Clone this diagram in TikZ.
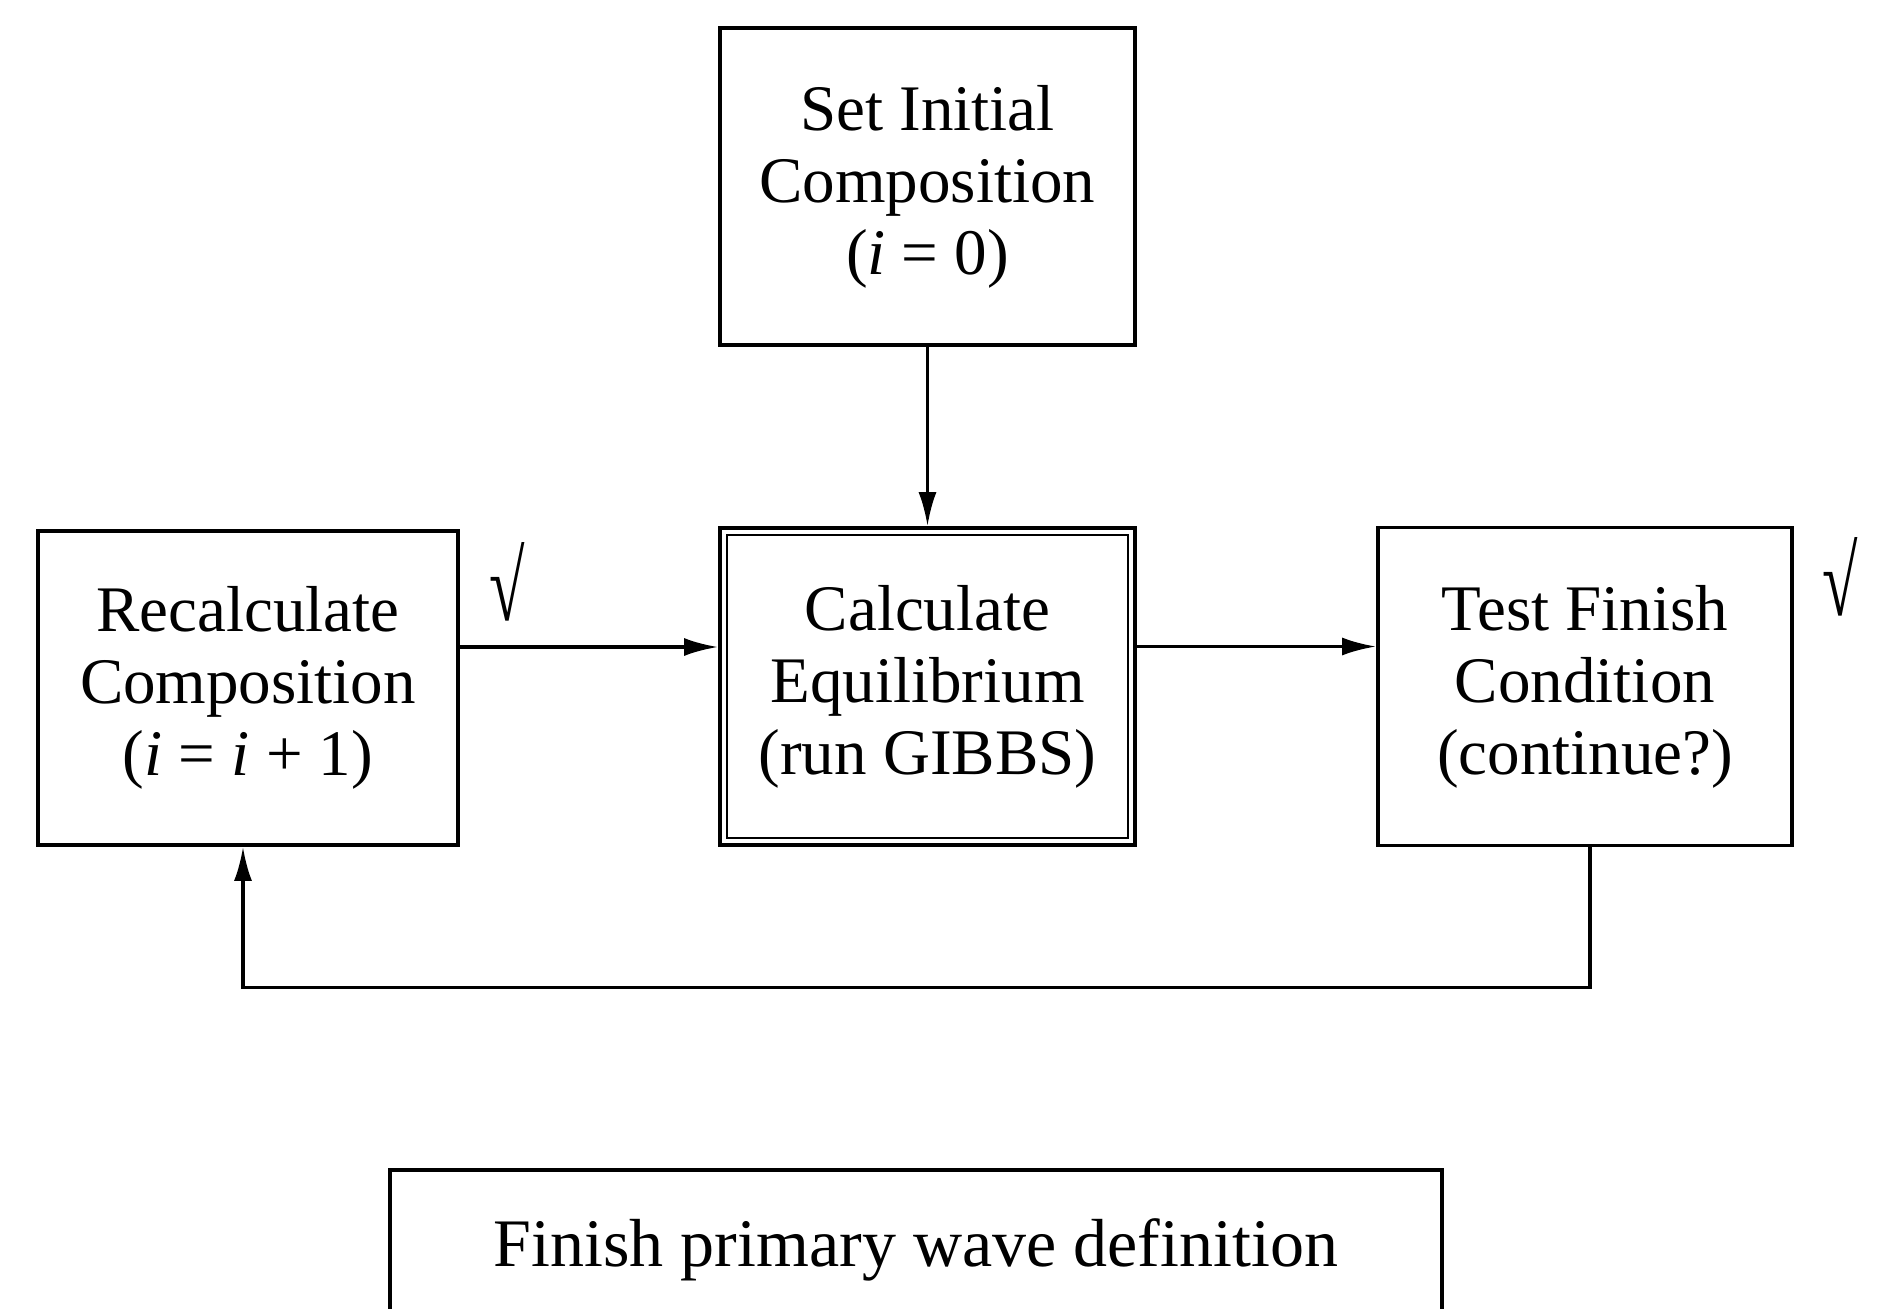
\documentclass[tikz,border=0pt]{standalone}
\usepackage{fontspec}
\setmainfont{Liberation Serif}
\usetikzlibrary{arrows.meta,calc}
\begin{document}
\begin{tikzpicture}[x=0.5pt,y=-0.5pt,
  box/.style={draw,line width=1.9pt,inner sep=0pt,align=center,
    font=\fontsize{32.5pt}{36pt}\selectfont},
  arr/.style={line width=1.7pt,-{Latex[length=17pt,width=9pt]}},
  ck/.style={inner sep=0pt,font=\fontsize{34pt}{34pt}\selectfont}]
\useasboundingbox (0,0) rectangle (1880,1308);
\node[box,minimum width=207.5pt,minimum height=158.5pt] (top) at (927.5,186.5)
  {Set Initial\\Composition\\(\textit{i} = 0)};
\node[box,minimum width=207.5pt,minimum height=158.5pt] (calc) at (927.5,686.5)
  {Calculate\\Equilibrium\\(run GIBBS)};
\draw[line width=1.3pt] ([shift={(4.5pt,-4.5pt)}]calc.north west) rectangle ([shift={(-4.5pt,4.5pt)}]calc.south east);
\node[box,minimum width=210pt,minimum height=157pt] (left) at (248,688)
  {Recalculate\\Composition\\(\textit{i} = \textit{i} + 1)};
\node[box,minimum width=207pt,minimum height=159pt] (right) at (1585,686.5)
  {Test Finish\\Condition\\(continue?)};
\node[box,minimum width=526pt,minimum height=80pt,font=\fontsize{34pt}{38pt}\selectfont] (fin) at (916,1250)
  {Finish primary wave definition};
\node[ck] (ck1) at (507,582) {\scalebox{0.95}[1.45]{√}};
\node[ck] (ck2) at (1840,577) {\scalebox{0.95}[1.45]{√}};
\draw[arr] (top.south) -- (calc.north);
\draw[arr] ([yshift=20.5pt]left.east) -- ([yshift=20.5pt]left.east -| calc.west);
\draw[arr] ([yshift=20pt]calc.east) -- ([yshift=20pt]calc.east -| right.west);
\draw[arr] ([xshift=2.5pt]right.south) -- ++(0,140) -| ([xshift=-2.5pt]left.south);
\end{tikzpicture}
\end{document}
